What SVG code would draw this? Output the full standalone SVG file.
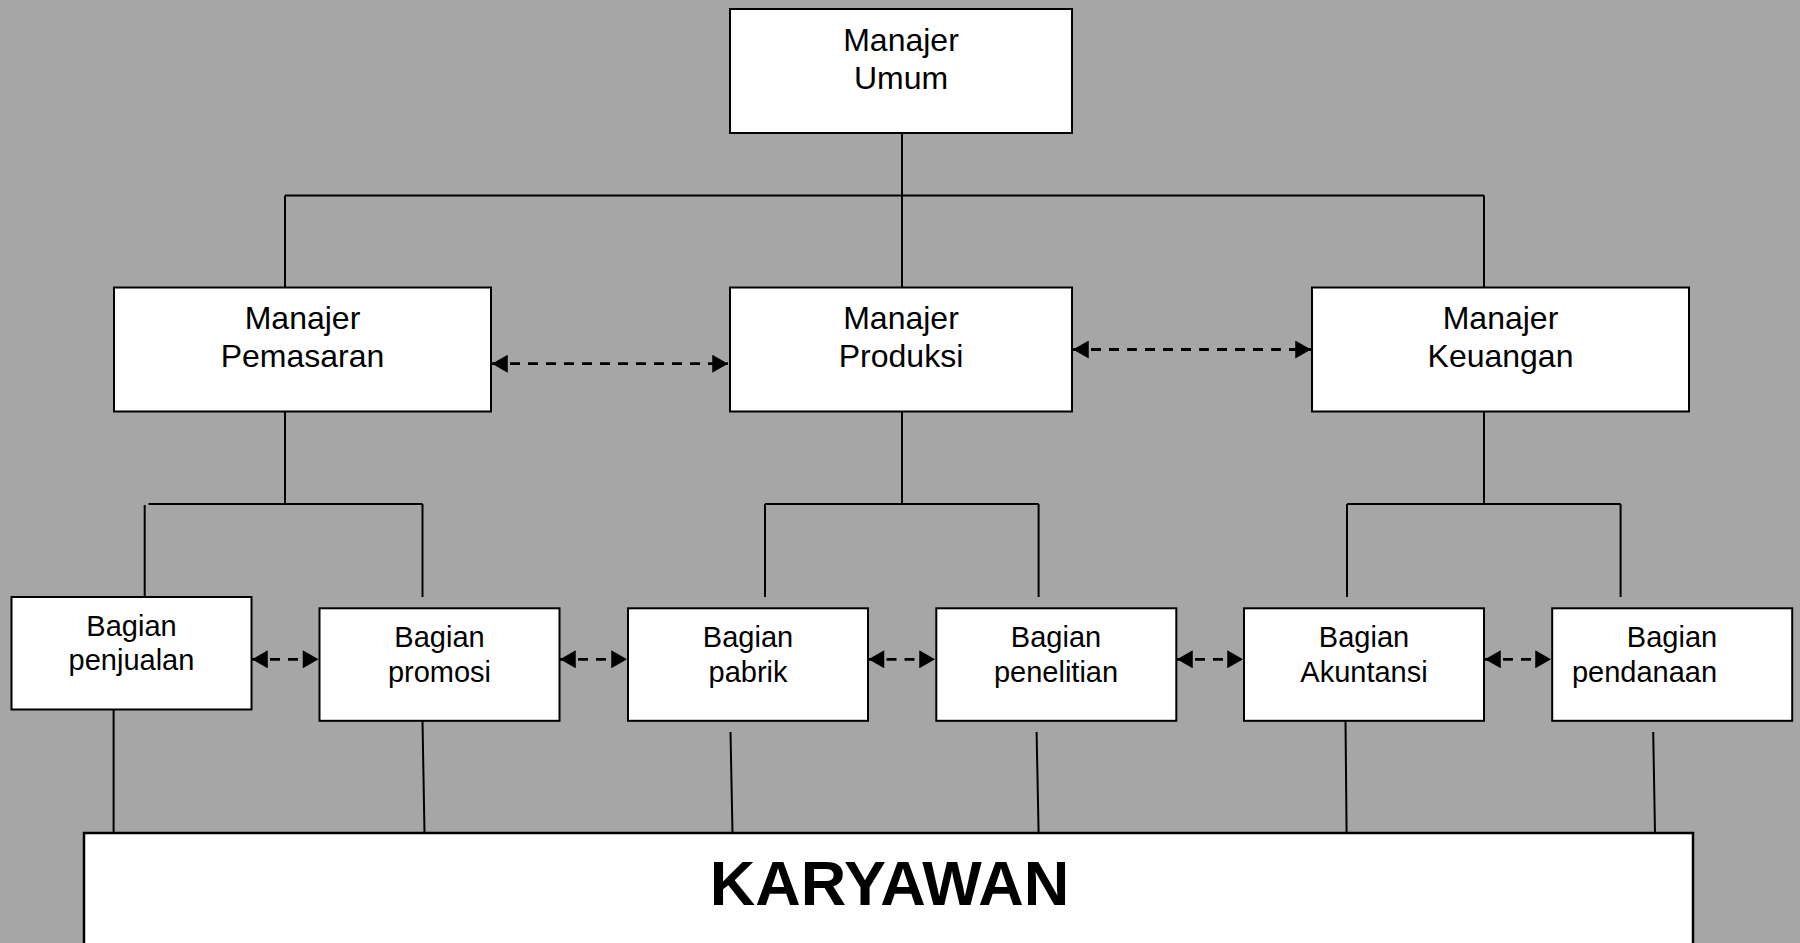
<svg xmlns="http://www.w3.org/2000/svg" width="1800" height="943" viewBox="0 0 1800 943">
<style>
.box{fill:#fff;stroke:#000;stroke-width:2}
.ln{fill:none;stroke:#000;stroke-width:2}
.dash{fill:none;stroke:#000;stroke-width:2.8;stroke-dasharray:10 8;marker-start:url(#ah);marker-end:url(#ah)}
.t{font-family:"Liberation Sans",Arial,sans-serif;fill:#000;text-anchor:middle}
.m{font-size:32px}
.b{font-size:29px}
.k{font-size:63px;font-weight:bold}
</style>
<defs>
<marker id="ah" markerUnits="userSpaceOnUse" markerWidth="18" markerHeight="18" viewBox="0 0 15 16" refX="14" refY="8" orient="auto-start-reverse">
<path d="M0,0 L14,8 L0,16 Z" fill="#000"/>
</marker>
</defs>
<rect width="1800" height="943" fill="#a6a6a6"/>
<g id="connectors">
<path class="ln" d="M902,133 V287 M285,195.5 H1484 M285,195.5 V287 M1484,195.5 V287"/>
<path class="ln" d="M285,411 V504 M148.5,504 H422.5 M144.7,505 V597 M422.5,504 V597"/>
<path class="ln" d="M902,411 V504 M765,504 H1038.6 M765,504 V597 M1038.6,504 V597"/>
<path class="ln" d="M1484,411 V504 M1347,504 H1620.6 M1347,504 V597 M1620.6,504 V597"/>
<path class="ln" d="M113.6,709 V833 M422.5,721 L424.5,833 M730.5,732 L732.5,833 M1036.6,732 L1038.6,833 M1345.5,721 L1346.6,833 M1653.2,732 L1655,833"/>
<path class="dash" d="M492,363.7 H728"/>
<path class="dash" d="M1073,349.5 H1311"/>
<path class="dash" d="M252,659.3 H318.5"/>
<path class="dash" d="M560,659.3 H627"/>
<path class="dash" d="M868.5,659.3 H935"/>
<path class="dash" d="M1177,659.3 H1243"/>
<path class="dash" d="M1485,659.3 H1551"/>
</g>
<g id="manajer-umum">
<rect class="box" x="730" y="9" width="342" height="124"/>
<text class="t m" x="901" y="51">Manajer</text>
<text class="t m" x="901" y="89">Umum</text>
</g>
<g id="manajer-pemasaran">
<rect class="box" x="114" y="287.5" width="377" height="124"/>
<text class="t m" x="302.5" y="329">Manajer</text>
<text class="t m" x="302.5" y="367">Pemasaran</text>
</g>
<g id="manajer-produksi">
<rect class="box" x="730" y="287.5" width="342" height="124"/>
<text class="t m" x="901" y="329">Manajer</text>
<text class="t m" x="901" y="367">Produksi</text>
</g>
<g id="manajer-keuangan">
<rect class="box" x="1312" y="287.5" width="377" height="124"/>
<text class="t m" x="1500.5" y="329">Manajer</text>
<text class="t m" x="1500.5" y="367">Keuangan</text>
</g>
<g id="bagian-penjualan">
<rect class="box" x="11.5" y="597" width="240" height="112.5"/>
<text class="t b" x="131.5" y="635.5">Bagian</text>
<text class="t b" x="131.5" y="670">penjualan</text>
</g>
<g id="bagian-promosi">
<rect class="box" x="319.5" y="608.3" width="240" height="112.5"/>
<text class="t b" x="439.5" y="646.7">Bagian</text>
<text class="t b" x="439.5" y="681.5">promosi</text>
</g>
<g id="bagian-pabrik">
<rect class="box" x="628" y="608.3" width="240" height="112.5"/>
<text class="t b" x="748" y="646.7">Bagian</text>
<text class="t b" x="748" y="681.5">pabrik</text>
</g>
<g id="bagian-penelitian">
<rect class="box" x="936.3" y="608.3" width="240" height="112.5"/>
<text class="t b" x="1056" y="646.7">Bagian</text>
<text class="t b" x="1056" y="681.5">penelitian</text>
</g>
<g id="bagian-akuntansi">
<rect class="box" x="1244" y="608.3" width="240" height="112.5"/>
<text class="t b" x="1364" y="646.7">Bagian</text>
<text class="t b" x="1364" y="681.5">Akuntansi</text>
</g>
<g id="bagian-pendanaan">
<rect class="box" x="1552.2" y="608.3" width="240" height="112.5"/>
<text class="t b" x="1672" y="646.7">Bagian</text>
<text class="t b" x="1644.5" y="681.5">pendanaan</text>
</g>
<g id="karyawan">
<rect class="box" x="84" y="833" width="1609" height="130" style="stroke-width:2.5"/>
<text class="t k" x="889.5" y="905">KARYAWAN</text>
</g>
</svg>
